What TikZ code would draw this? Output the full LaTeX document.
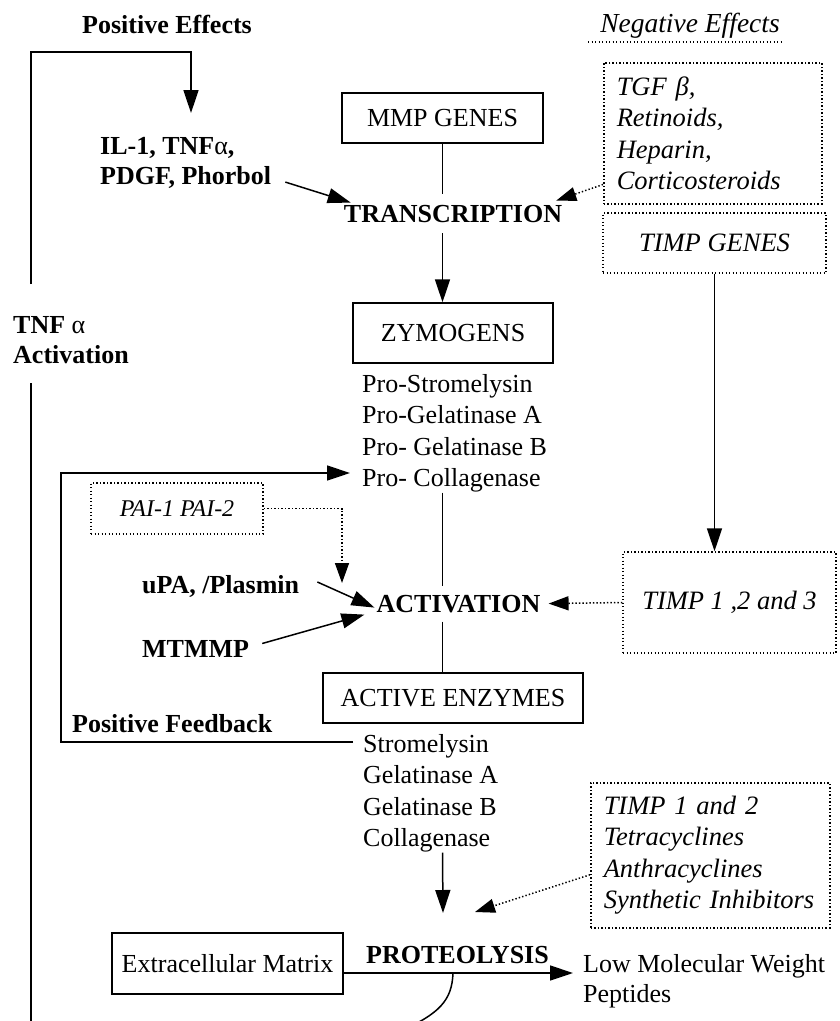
\documentclass[tikz,border=0pt]{standalone}
\usepackage{fontspec}
\setmainfont{Liberation Serif}
\usetikzlibrary{arrows.meta,calc}
\begin{document}
\begin{tikzpicture}[x=1pt,y=-1pt,
  every node/.style={inner sep=0pt,font=\fontsize{26}{31}\selectfont},
  box/.style={draw,line width=1.5pt,inner sep=0pt},
  dbox/.style={draw,line width=1.5pt,dash pattern=on 1.4pt off 2.1pt,inner sep=0pt},
  bf/.style={font=\fontsize{26}{30}\selectfont\bfseries},
  it/.style={font=\fontsize{26.5}{31.5}\selectfont\itshape},
  lst/.style={font=\fontsize{26}{31.5}\selectfont},
  ln/.style={line width=1.5pt},
  dotl/.style={line width=1.5pt,dash pattern=on 1.4pt off 2.1pt},
  arr/.style={line width=1.5pt,-{Triangle[length=23pt,width=15pt]}},
  darr/.style={line width=1.5pt,dash pattern=on 1.4pt off 2.1pt,-{Triangle[length=20pt,width=14pt]}}
]
\clip (0,0) rectangle (840,1021);
\fill[white] (0,0) rectangle (840,1021);

% headings
\node[bf,anchor=base] (posEff) at (167,33) {Positive Effects};
\node[it,font=\fontsize{27.5}{31.5}\selectfont\itshape,anchor=base] (negEff) at (690,32) {Negative Effects};
\draw[dotl] ($(negEff.base west)+(-12,10)$) -- ($(negEff.base east)+(4,10)$);

% central column
\node[box,minimum width=201pt,minimum height=50pt] (mmp) at (442.5,118) {MMP GENES};
\node[bf,anchor=base,inner ysep=11pt] (trans) at (453,222) {TRANSCRIPTION};
\node[box,minimum width=200pt,minimum height=60pt] (zym) at (453,333) {ZYMOGENS};
\node[lst,anchor=north west,align=left] (prolist) at (362,374) {Pro-Stromelysin\\Pro-Gelatinase A\\Pro- Gelatinase B\\Pro- Collagenase};
\node[bf,anchor=base,inner xsep=8pt,inner ysep=9pt] (act) at (458.5,612) {ACTIVATION};
\node[box,minimum width=260pt,minimum height=50pt] (ae) at (453,698) {ACTIVE ENZYMES};
\node[lst,anchor=north west,align=left] (actlist) at (363,734) {Stromelysin\\Gelatinase A\\Gelatinase B\\Collagenase};
\node[bf,anchor=base] (prot) at (457.5,963) {PROTEOLYSIS};
\node[box,minimum width=231pt,minimum height=61pt] (ecm) at (227.5,963.5) {Extracellular Matrix};
\node[font=\fontsize{26}{30}\selectfont,anchor=north west,align=left] (lmw) at (583,954) {Low Molecular Weight\\Peptides};

% left side
\node[bf,anchor=north west,align=left] (tnfact) at (13,316) {TNF \textnormal{α}\\Activation};
\node[bf,anchor=north west,align=left] (il1) at (100,137.5) {IL-1, TNF\textnormal{α},\\PDGF, Phorbol};
\node[dbox,font=\fontsize{24}{28}\selectfont\itshape,minimum width=172pt,minimum height=51pt] (pai) at (177,508.5) {PAI-1 PAI-2};
\node[bf,anchor=base west] (upa) at (142,593) {uPA, /Plasmin};
\node[bf,anchor=base west] (mtmmp) at (142,657) {MTMMP};
\node[bf,anchor=base west] (posfb) at (72,732) {Positive Feedback};

% right side
\node[dbox,it,anchor=north west,align=left,text width=192pt,minimum width=218pt,minimum height=141pt] (neg1) at (603,62) {TGF β,\\Retinoids,\\Heparin,\\Corticosteroids};
\node[dbox,it,minimum width=223pt,minimum height=60pt] (timpg) at (714.5,243) {TIMP GENES};
\node[dbox,it,minimum width=213pt,minimum height=101pt] (timp123) at (729.5,602.5) {TIMP 1 ,2 and 3};
\node[dbox,it,anchor=north west,align=left,text width=213pt,minimum width=239pt,minimum height=145pt] (timp12) at (590,782) {TIMP 1 and 2\\Tetracyclines\\Anthracyclines\\Synthetic Inhibitors};

% coordinates for free ends
\coordinate (peA) at (31,284);
\coordinate (peB) at (191,52);
\coordinate (peC) at (191,113);
\coordinate (tnfA) at (31,383);
\coordinate (tnfB) at (31,1030);
\coordinate (fbA) at (353,742);
\coordinate (fbB) at (61,742);
\coordinate (fbC) at (350,473);
\coordinate (paiT) at (342,583);
\coordinate (protT) at (443,913);
\coordinate (inhT) at (475,912);
\coordinate (lmwT) at (573,973);
\coordinate (cv) at (453,973);
\coordinate (cvEnd) at (398,1032);

% connectors
\draw[arr] (peA) |- (peB) -- (peC);
\draw[ln] (tnfA) -- (tnfB);
\draw[ln] (mmp.south) -- (mmp.south |- trans.north);
\draw[arr] (mmp.south |- trans.south) -- (mmp.south |- zym.north);
\draw[arr] ($(il1.south east)+(14,-7)$) -- ($(trans.north west)+(7,9)$);
\draw[darr] ($(neg1.south west)+(0,-20)$) -- ($(trans.north east)+(-6,7)$);
\draw[arr] (timpg.south) -- (timpg.south |- timp123.north);
\draw[darr] (timp123.west) -- (act.east);
\draw[ln] (prolist.south -| mmp.south) -- (act.north -| mmp.south);
\draw[ln] (act.south -| mmp.south) -- (ae.north -| mmp.south);
\draw[arr] (fbA) -- (fbB) |- (fbC);
\draw[darr] (pai.east) -| (paiT);
\draw[arr] ($(upa.east)+(18,-4)$) -- ($(act.west)+(6,4)$);
\draw[arr] ($(mtmmp.east)+(13,-5)$) -- ($(act.west)+(-4,11)$);
\draw[arr] (actlist.south -| mmp.south) -- (protT);
\draw[darr] ($(timp12.west)+(0,19.5)$) -- (inhT);
\draw[arr] (ecm.east |- lmwT) -- (lmwT);
\draw[ln] (cv) .. controls (452,1000) and (440,1014) .. (cvEnd);
\end{tikzpicture}
\end{document}
